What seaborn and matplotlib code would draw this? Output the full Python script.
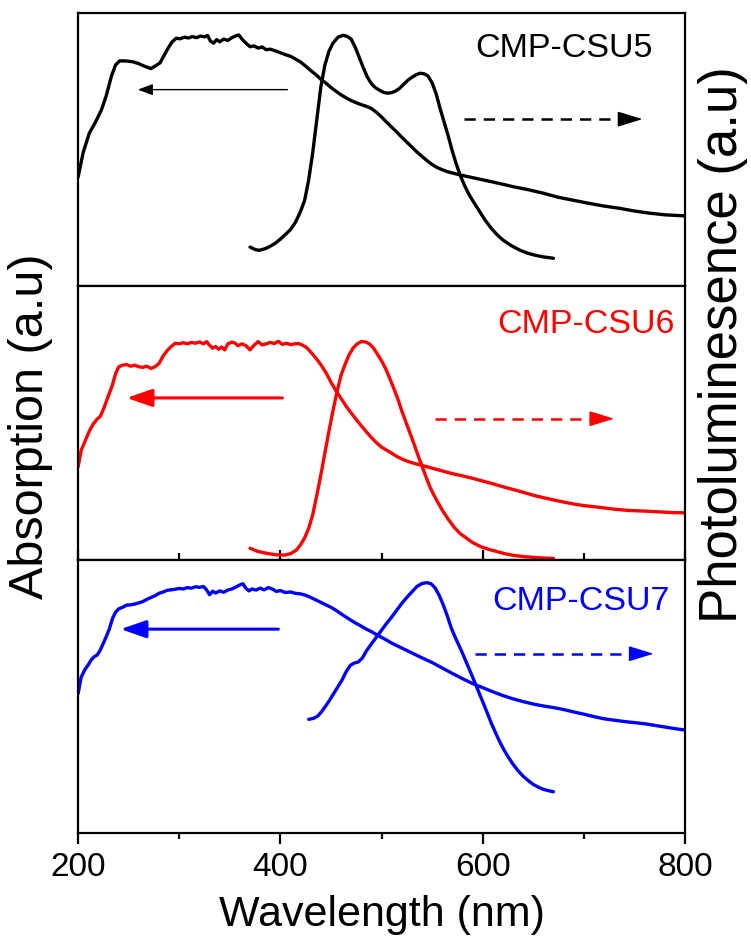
import numpy as np
import pandas as pd
import matplotlib
matplotlib.use("Agg")
import matplotlib.pyplot as plt
import seaborn as sns

# ---------------- data ----------------
samples = ["CMP-CSU5", "CMP-CSU6", "CMP-CSU7"]
colors = ["#000000", "#ff0000", "#0000ff"]

abs5_wl = [200, 205, 211, 217, 223, 228, 233, 237, 241, 247, 254, 260, 266, 272, 277, 281, 285, 289, 293, 297,
           301, 305, 309, 313, 317, 321, 325, 328, 331, 334, 337, 340, 344, 348, 352, 356, 359, 362, 366, 370,
           374, 378, 382, 386, 390, 395, 400, 405, 410, 415, 420, 425, 430, 435, 440, 445, 450, 455, 460, 465,
           470, 475, 480, 485, 490, 495, 500, 505, 510, 515, 520, 525, 530, 535, 540, 545, 550, 555, 560, 565,
           570, 580, 590, 600, 615, 630, 645, 660, 675, 690, 705, 720, 735, 750, 765, 780, 790, 800]
abs5_val = [0.40, 0.49, 0.56, 0.60, 0.645, 0.70, 0.77, 0.81, 0.825, 0.825, 0.822, 0.815, 0.805, 0.797, 0.808, 0.818,
            0.845, 0.872, 0.895, 0.908, 0.906, 0.912, 0.909, 0.914, 0.910, 0.916, 0.913, 0.918, 0.897, 0.890, 0.903,
            0.895, 0.905, 0.900, 0.910, 0.917, 0.920, 0.905, 0.890, 0.877, 0.880, 0.872, 0.876, 0.866, 0.868, 0.862,
            0.855, 0.848, 0.842, 0.832, 0.821, 0.806, 0.790, 0.775, 0.758, 0.744, 0.728, 0.714, 0.701, 0.690, 0.680,
            0.672, 0.665, 0.659, 0.651, 0.637, 0.620, 0.601, 0.583, 0.565, 0.546, 0.528, 0.510, 0.492, 0.476, 0.460,
            0.446, 0.435, 0.427, 0.420, 0.415, 0.406, 0.398, 0.390, 0.378, 0.365, 0.354, 0.341, 0.326, 0.315, 0.304,
            0.294, 0.286, 0.276, 0.268, 0.262, 0.260, 0.258]

abs6_wl = [200, 203, 207, 211, 215, 219, 222, 225, 228, 231, 234, 237, 240, 244, 248, 252, 256, 260, 264, 268,
           272, 276, 280, 284, 288, 292, 296, 300, 304, 308, 312, 316, 320, 324, 327, 330, 333, 336, 339, 342,
           345, 348, 352, 355, 358, 362, 366, 370, 374, 378, 382, 386, 390, 394, 398, 402, 406, 410, 414, 418,
           422, 426, 430, 435, 440, 445, 450, 455, 460, 465, 470, 475, 480, 485, 490, 495, 500, 505, 510, 515,
           520, 525, 530, 540, 550, 560, 570, 580, 590, 600, 610, 620, 630, 640, 650, 660, 670, 680, 690, 700,
           715, 730, 745, 760, 775, 790, 800]
abs6_val = [0.34, 0.40, 0.435, 0.47, 0.497, 0.515, 0.525, 0.55, 0.58, 0.61, 0.64, 0.68, 0.705, 0.712, 0.714, 0.708,
            0.712, 0.706, 0.704, 0.708, 0.700, 0.706, 0.718, 0.745, 0.765, 0.780, 0.792, 0.790, 0.794, 0.790, 0.795,
            0.792, 0.797, 0.790, 0.798, 0.785, 0.774, 0.780, 0.770, 0.778, 0.768, 0.790, 0.796, 0.793, 0.783, 0.790,
            0.783, 0.768, 0.785, 0.798, 0.786, 0.790, 0.795, 0.791, 0.799, 0.788, 0.792, 0.787, 0.790, 0.791, 0.785,
            0.776, 0.760, 0.738, 0.714, 0.685, 0.650, 0.618, 0.590, 0.562, 0.537, 0.513, 0.490, 0.468, 0.447, 0.428,
            0.412, 0.401, 0.390, 0.378, 0.369, 0.361, 0.355, 0.345, 0.335, 0.325, 0.315, 0.307, 0.298, 0.288, 0.278,
            0.267, 0.257, 0.247, 0.236, 0.227, 0.219, 0.211, 0.204, 0.198, 0.192, 0.185, 0.180, 0.178, 0.175, 0.172,
            0.172]

abs7_wl = [200, 203, 207, 210, 213, 216, 219, 222, 225, 228, 231, 234, 237, 240, 244, 248, 252, 256, 260, 264,
           268, 272, 276, 280, 284, 288, 292, 296, 300, 304, 308, 312, 316, 320, 324, 327, 330, 333, 336, 340,
           344, 348, 352, 356, 360, 363, 366, 369, 372, 376, 380, 384, 388, 392, 396, 400, 405, 410, 415, 420,
           425, 430, 435, 440, 445, 450, 455, 460, 465, 470, 475, 480, 485, 490, 495, 500, 505, 510, 515, 520,
           525, 530, 540, 550, 560, 570, 580, 590, 600, 610, 620, 630, 640, 650, 660, 670, 680, 690, 700, 710,
           720, 730, 740, 750, 760, 770, 780, 790, 800]
abs7_val = [0.51, 0.57, 0.60, 0.615, 0.634, 0.645, 0.652, 0.670, 0.695, 0.72, 0.748, 0.785, 0.808, 0.820, 0.826,
            0.834, 0.835, 0.838, 0.842, 0.847, 0.855, 0.862, 0.868, 0.877, 0.882, 0.888, 0.890, 0.892, 0.895, 0.893,
            0.898, 0.896, 0.901, 0.899, 0.902, 0.890, 0.872, 0.885, 0.878, 0.886, 0.881, 0.889, 0.893, 0.900, 0.908,
            0.912, 0.895, 0.886, 0.893, 0.889, 0.896, 0.890, 0.898, 0.893, 0.884, 0.887, 0.880, 0.882, 0.877, 0.875,
            0.870, 0.862, 0.853, 0.844, 0.835, 0.826, 0.815, 0.802, 0.790, 0.778, 0.767, 0.757, 0.746, 0.737, 0.726,
            0.716, 0.706, 0.695, 0.686, 0.677, 0.668, 0.659, 0.641, 0.624, 0.604, 0.584, 0.565, 0.547, 0.532, 0.517,
            0.503, 0.491, 0.481, 0.472, 0.465, 0.459, 0.452, 0.443, 0.435, 0.426, 0.418, 0.413, 0.408, 0.404, 0.400,
            0.394, 0.388, 0.382, 0.377]

pl5_wl = [370, 375, 379, 385, 390, 395, 400, 405, 410, 415, 420, 424, 428, 432, 436, 440, 444, 448, 452, 457,
          462, 466, 470, 474, 478, 482, 486, 490, 494, 498, 502, 506, 510, 514, 518, 522, 526, 530, 534, 538,
          542, 546, 550, 554, 558, 562, 566, 570, 574, 578, 582, 586, 590, 596, 602, 608, 614, 620, 628, 636,
          644, 652, 660, 670]
pl5_val = [0.144, 0.135, 0.132, 0.138, 0.147, 0.158, 0.173, 0.190, 0.208, 0.235, 0.275, 0.315, 0.39, 0.49, 0.61,
           0.73, 0.81, 0.86, 0.89, 0.912, 0.919, 0.915, 0.905, 0.875, 0.838, 0.80, 0.766, 0.742, 0.727, 0.718, 0.710,
           0.707, 0.709, 0.715, 0.725, 0.740, 0.754, 0.765, 0.774, 0.780, 0.778, 0.770, 0.745, 0.705, 0.650, 0.600,
           0.550, 0.495, 0.447, 0.405, 0.370, 0.340, 0.315, 0.280, 0.245, 0.215, 0.190, 0.170, 0.150, 0.134, 0.122,
           0.114, 0.108, 0.103]

pl6_wl = [370, 378, 387, 396, 404, 410, 416, 420, 424, 428, 432, 436, 440, 444, 448, 452, 456, 460, 464, 468,
          472, 476, 480, 484, 488, 492, 496, 500, 504, 508, 512, 516, 520, 524, 528, 532, 536, 540, 544, 548,
          552, 556, 560, 566, 572, 578, 584, 590, 598, 606, 614, 622, 632, 642, 652, 662, 670]
pl6_val = [0.042, 0.030, 0.023, 0.018, 0.017, 0.022, 0.036, 0.055, 0.080, 0.115, 0.165, 0.235, 0.31, 0.39, 0.47,
           0.545, 0.615, 0.675, 0.715, 0.750, 0.775, 0.790, 0.798, 0.797, 0.790, 0.775, 0.752, 0.728, 0.700, 0.665,
           0.628, 0.590, 0.545, 0.505, 0.465, 0.425, 0.383, 0.343, 0.303, 0.265, 0.235, 0.208, 0.182, 0.148, 0.118,
           0.095, 0.079, 0.063, 0.048, 0.038, 0.030, 0.022, 0.015, 0.011, 0.008, 0.006, 0.005]

pl7_wl = [428, 433, 437, 441, 445, 449, 453, 457, 461, 465, 469, 473, 477, 481, 485, 490, 495, 500, 505, 510,
          515, 520, 525, 530, 535, 540, 545, 549, 553, 557, 561, 565, 569, 573, 577, 581, 585, 589, 593, 597,
          601, 605, 609, 613, 617, 621, 625, 630, 635, 640, 645, 650, 655, 660, 665, 670]
pl7_val = [0.416, 0.420, 0.428, 0.445, 0.466, 0.488, 0.512, 0.536, 0.560, 0.590, 0.613, 0.622, 0.626, 0.640, 0.666,
           0.692, 0.717, 0.742, 0.767, 0.790, 0.815, 0.840, 0.862, 0.882, 0.902, 0.913, 0.916, 0.912, 0.897, 0.870,
           0.835, 0.795, 0.750, 0.715, 0.683, 0.650, 0.615, 0.580, 0.545, 0.508, 0.472, 0.435, 0.398, 0.365, 0.333,
           0.305, 0.280, 0.252, 0.228, 0.208, 0.192, 0.178, 0.168, 0.160, 0.155, 0.151]

# arrow annotations: (start, end, level) in wavelength / panel units
abs_arrows = [(407, 259, 0.720), (402, 248, 0.592), (398, 242, 0.746)]
pl_arrows = [(582, 758, 0.612), (553, 730, 0.516), (592, 769, 0.656)]
label_pos = [(768, 0.84), (790, 0.83), (785, 0.817)]

x_major = [200, 400, 600, 800]
x_minor = [300, 500, 700]

# ---------------- styling ----------------
sns.set_theme(style="white")
plt.rcParams["font.family"] = ["Liberation Sans", "DejaVu Sans"]
plt.rcParams["axes.edgecolor"] = "black"
plt.rcParams["axes.linewidth"] = 1.6
plt.rcParams["text.color"] = "black"
plt.rcParams["xtick.color"] = "black"
plt.rcParams["xtick.labelcolor"] = "black"

fig, axes = plt.subplots(3, 1, sharex=True, figsize=(7.51, 9.36), dpi=100)
fig.subplots_adjust(left=0.104, right=0.912, bottom=0.110, top=0.986, hspace=0)

abs_sets = [(abs5_wl, abs5_val), (abs6_wl, abs6_val), (abs7_wl, abs7_val)]
pl_sets = [(pl5_wl, pl5_val), (pl6_wl, pl6_val), (pl7_wl, pl7_val)]

for i, ax in enumerate(axes):
    c = colors[i]
    dfa = pd.DataFrame({"wl": abs_sets[i][0], "val": abs_sets[i][1]})
    dfp = pd.DataFrame({"wl": pl_sets[i][0], "val": pl_sets[i][1]})
    sns.lineplot(data=dfa, x="wl", y="val", ax=ax, color=c, lw=2.4, sort=False, estimator=None)
    sns.lineplot(data=dfp, x="wl", y="val", ax=ax, color=c, lw=2.4, sort=False, estimator=None)
    ax.set_xlim(200, 800)
    ax.set_ylim(0, 1)
    ax.set_xlabel("")
    ax.set_ylabel("")
    ax.set_yticks([])
    for s in ax.spines.values():
        s.set_color("black")
        s.set_linewidth(1.6)

    # absorption arrow (solid, pointing left)
    x0, x1, yv = abs_arrows[i]
    if i == 0:
        lw_a, hl, hw = 1.0, 0.75, 0.28
    else:
        lw_a, hl, hw = 2.2, 1.3, 0.45
    ax.annotate("", xy=(x1, yv), xytext=(x0, yv),
                arrowprops=dict(arrowstyle=f"-|>,head_length={hl},head_width={hw}",
                                color=c, lw=lw_a, shrinkA=0, shrinkB=0))

    # PL arrow (dashed, pointing right)
    x0, x1, yv = pl_arrows[i]
    ax.plot([x0, x1 - 14], [yv, yv], color=c, lw=1.8, ls=(0, (4.5, 3.2)))
    ax.annotate("", xy=(x1, yv), xytext=(x1 - 16, yv),
                arrowprops=dict(arrowstyle="-|>,head_length=1.3,head_width=0.4",
                                color=c, lw=1.0, shrinkA=0, shrinkB=0))

    lx, ly = label_pos[i]
    ax.text(lx, ly, samples[i], color=c, fontsize=24.5, ha="right", va="baseline")

ax1, ax2, ax3 = axes
ax3.set_xticks(x_major)
ax3.set_xticks(x_minor, minor=True)
ax1.tick_params(axis="x", which="both", length=0, labelbottom=False)
ax2.tick_params(axis="x", which="major", direction="in", length=7, width=1.6, labelbottom=False, bottom=True)
ax2.tick_params(axis="x", which="minor", direction="in", length=5, width=1.6, bottom=True)
ax3.tick_params(axis="x", which="major", direction="out", length=8, width=1.6, labelsize=24, pad=6,
                bottom=True, labelcolor="black")
ax3.tick_params(axis="x", which="minor", direction="out", length=4, width=1.6, bottom=True)

fig.text(0.508, 0.022, "Wavelength (nm)", fontsize=31, ha="center", va="center")
fig.text(0.041, 0.545, "Absorption (a.u)", fontsize=35, ha="center", va="center", rotation=90)
fig.text(0.963, 0.632, "Photoluminesence (a.u)", fontsize=38, ha="center", va="center", rotation=90)

fig.savefig("out.png", dpi=100)
